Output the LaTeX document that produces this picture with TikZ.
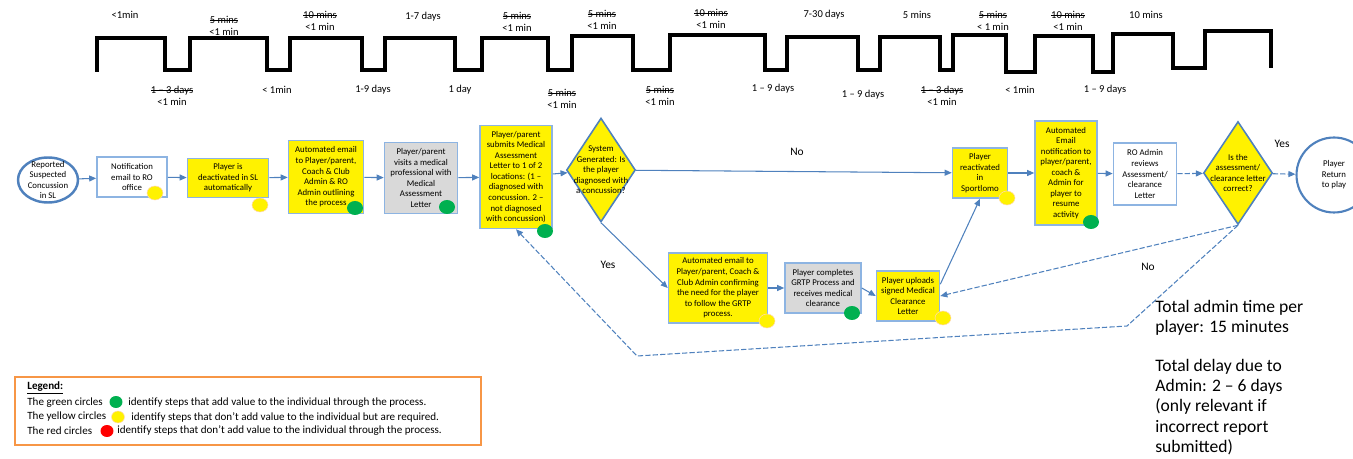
\documentclass[tikz,border=0pt]{standalone}
\usepackage{fontspec}
\setmainfont{Carlito}
\usetikzlibrary{shapes.geometric,arrows.meta}
\definecolor{flowblue}{RGB}{79,129,189}
\definecolor{boxline}{RGB}{141,180,226}
\definecolor{dotgreen}{RGB}{0,176,80}
\definecolor{legendorange}{RGB}{247,150,70}
\definecolor{boxgrey}{RGB}{217,217,217}
\newlength{\strikelen}
\newcommand{\strikeout}[1]{\settowidth{\strikelen}{#1}\rlap{\rule[0.28em]{\strikelen}{0.5pt}}#1}
\begin{document}
\begin{tikzpicture}[x=0.02cm,y=-0.02cm,
    >={Triangle[length=4pt,width=3.4pt]},
    flow/.style={draw=flowblue,line width=0.6pt},
    dashflow/.style={flow,dash pattern=on 3pt off 1.2pt},
    proc/.style={draw=boxline,line width=0.9pt,fill=yellow,align=center,inner sep=0pt,
      font=\fontsize{5}{6}\selectfont},
    whitebox/.style={proc,fill=white},
    greybox/.style={proc,fill=boxgrey},
    decision/.style={diamond,draw=flowblue,line width=0.9pt,fill=yellow,inner sep=0pt,
      minimum width=1.38cm,minimum height=2.08cm},
    dtext/.style={align=center,inner sep=0pt,font=\fontsize{5}{6}\selectfont},
    ydot/.style={ellipse,fill=yellow,draw=orange!30,line width=0.3pt,inner sep=0pt,
      minimum width=0.32cm,minimum height=0.28cm},
    gdot/.style={ellipse,fill=dotgreen,inner sep=0pt,minimum width=0.32cm,minimum height=0.28cm},
    rdot/.style={ellipse,fill=red,inner sep=0pt,minimum width=0.3cm,minimum height=0.26cm},
    wave/.style={align=center,inner sep=0pt,font=\fontsize{6}{6.8}\selectfont},
    yn/.style={inner sep=0pt,font=\fontsize{6.5}{8}\selectfont},
    legtxt/.style={anchor=west,inner sep=0pt,font=\fontsize{6.3}{7}\selectfont}]
\useasboundingbox (0,0) rectangle (1353,459);

\draw [line width=2pt] (97,72) -- (97,38) -- (165,38) -- (165,70) -- (190,70) -- (190,38)
  -- (267,38) -- (267,70) -- (290,70) -- (290,38) -- (362,38) -- (362,70) -- (385,70)
  -- (385,38) -- (455,38) -- (455,70) -- (482,70) -- (482,38) -- (548,38) -- (548,70)
  -- (572,70) -- (572,36) -- (633,36) -- (633,70) -- (670,70) -- (670,35) -- (765,35)
  -- (765,70) -- (787,70) -- (787,37) -- (858,37) -- (858,70) -- (880,70) -- (880,37)
  -- (940,37) -- (940,70) -- (953,70) -- (953,35) -- (1006,35) -- (1006,72) -- (1035,72)
  -- (1035,36) -- (1093,36) -- (1093,72) -- (1113,72) -- (1113,34) -- (1173,34)
  -- (1173,68) -- (1205,68) -- (1205,31) -- (1271,31) -- (1271,68);

\path (125,15) node [wave] (t1) {<1min};
\path (224,26) node [wave] (t2) {\strikeout{5 mins}\\<1 min};
\path (320,21) node [wave] (t3) {\strikeout{10 mins}\\<1 min};
\path (423,17) node [wave] (t4) {1-7 days};
\path (517,22) node [wave] (t5) {\strikeout{5 mins}\\<1 min};
\path (602,20) node [wave] (t6) {\strikeout{5 mins}\\<1 min};
\path (711,19) node [wave] (t7) {\strikeout{10 mins}\\<1 min};
\path (824,15) node [wave] (t8) {7-30 days};
\path (917,15) node [wave] (t9) {5 mins};
\path (993,21) node [wave] (t10) {\strikeout{5 mins}\\< 1 min};
\path (1068,21) node [wave] (t11) {\strikeout{10 mins}\\<1 min};
\path (1146,15) node [wave] (t12) {10 mins};

\path (172,96) node [wave] (b1) {\strikeout{1 -- 3 days}\\<1 min};
\path (277,90) node [wave] (b2) {< 1min};
\path (373,90) node [wave] (b3) {1-9 days};
\path (460,90) node [wave] (b4) {1 day};
\path (562,99) node [wave] (b5) {\strikeout{5 mins}\\<1 min};
\path (660,96) node [wave] (b6) {\strikeout{5 mins}\\<1 min};
\path (773,89) node [wave] (b7) {1 -- 9 days};
\path (863,95) node [wave] (b8) {1 -- 9 days};
\path (942,96) node [wave] (b9) {\strikeout{1 -- 3 days}\\<1 min};
\path (1020,90) node [wave] (b10) {< 1min};
\path (1105,90) node [wave] (b11) {1 -- 9 days};

\path (48,180) node [ellipse,draw=flowblue,line width=1.4pt,fill=white,inner sep=0pt,
  minimum width=1.2cm,minimum height=0.9cm] (rep) {};
\path (rep) node [dtext] (reptxt) {Reported\\Suspected\\Concussion\\in SL};
\path (132,177) node [whitebox,minimum width=1.4cm,minimum height=0.8cm] (notif)
  {Notification\\email to RO\\office};
\path (228,178) node [proc,minimum width=1.62cm,minimum height=0.78cm] (deact)
  {Player is\\deactivated in SL\\automatically};
\path (326,177) node [proc,minimum width=1.5cm,minimum height=1.46cm] (email)
  {Automated email\\to Player/parent,\\Coach \& Club\\Admin \& RO\\Admin outlining\\the process};
\path (421,178) node [greybox,minimum width=1.46cm,minimum height=1.42cm] (visit)
  {Player/parent\\visits a medical\\professional with\\Medical\\Assessment\\Letter};
\path (516,177) node [proc,minimum width=1.44cm,minimum height=2.06cm] (submit)
  {Player/parent\\submits Medical\\Assessment\\Letter to 1 of 2\\locations: (1 --\\diagnosed with\\concussion. 2 --\\not diagnosed\\with concussion)};
\path (601,170) node [decision] (diag) {};
\path (diag) node [dtext] (diagtxt) {System\\Generated: Is\\the player\\diagnosed with\\a concussion?};
\path (980,173) node [proc,minimum width=1.1cm,minimum height=1cm] (react)
  {Player\\reactivated\\in\\Sportlomo};
\path (1066,173) node [proc,minimum width=1.24cm,minimum height=2.08cm] (resume)
  {Automated\\Email\\notification to\\player/parent,\\coach \&\\Admin for\\player to\\resume\\activity};
\path (1145,174) node [whitebox,minimum width=1.26cm,minimum height=1.24cm] (review)
  {RO Admin\\reviews\\Assessment/\\clearance\\Letter};
\path (1238,173) node [decision,minimum height=2.06cm] (correct) {};
\path (correct) node [dtext] (correcttxt) {Is the\\assessment/\\clearance letter\\correct?};
\path (1334,175) node [circle,draw=flowblue,line width=1.2pt,fill=white,inner sep=0pt,
  minimum size=1.5cm,align=center,font=\fontsize{5}{6}\selectfont] (rtp) {Player\\Return\\to play};
\path (718,288) node [proc,minimum width=1.98cm,minimum height=1.4cm] (grtpmail)
  {Automated email to\\Player/parent, Coach \&\\Club Admin confirming\\the need for the player\\to follow the GRTP\\process.};
\path (823,288) node [greybox,minimum width=1.52cm,minimum height=1cm] (grtp)
  {Player completes\\GRTP Process and\\receives medical\\clearance};
\path (908,296) node [proc,minimum width=1.26cm,minimum height=1cm] (upload)
  {Player uploads\\signed Medical\\Clearance\\Letter};

\path (155,193) node [ydot] (d1) {};
\path (260,205) node [ydot] (d2) {};
\path (355,208) node [gdot] (d3) {};
\path (447,207) node [gdot] (d4) {};
\path (545,231) node [gdot] (d5) {};
\path (1007,198) node [ydot] (d6) {};
\path (1091,222) node [gdot] (d7) {};
\path (767,321) node [ydot] (d8) {};
\path (852,313) node [gdot] (d9) {};
\path (943,318) node [ydot] (d10) {};

\coordinate (bendr) at (1127,326);
\coordinate (bendl) at (637,356);

\draw [flow,->] (rep) -- (notif);
\draw [flow,->] (notif) -- (deact);
\draw [flow,->] (deact) -- (email);
\draw [flow,->] (email) -- (visit);
\draw [flow,->] (visit) -- (submit);
\draw [flow,->] (submit) -- (diag);
\draw [flow,->] (diag) -- (react);
\draw [flow,->] (diag.south) -- (grtpmail.west);
\draw [flow,->] (grtpmail) -- (grtp);
\draw [flow,->] (grtp.east) -- (upload.west);
\draw [flow,->] (upload.20) -- (react.south);
\draw [flow,->] (react) -- (resume);
\draw [flow,->] (resume) -- (review);
\draw [dashflow,->] (review) -- (correct);
\draw [dashflow,->] (correct) -- (rtp);
\draw [dashflow,->] (correct.south) -- (upload.east);
\draw [dashflow,->] (correct.south) -- (bendr) -- (bendl) -- (submit.south);

\path (797,152) node [yn] (no1) {No};
\path (608,265) node [yn] (yes1) {Yes};
\path (1282,144) node [yn] (yes2) {Yes};
\path (1148,267) node [yn] (no2) {No};

\path (14,376) node [anchor=north west,draw=legendorange,line width=1pt,inner sep=0pt,
  minimum width=9.32cm,minimum height=1.36cm] (legend) {};
\path (27,388) node [legtxt] (leg0) {\textbf{\underline{Legend:}}};
\path (27,403) node [legtxt] (leg1a) {The green circles};
\path (116,402) node [gdot,minimum width=0.26cm,minimum height=0.24cm] (lg) {};
\path (128,403) node [legtxt] (leg1b) {identify steps that add value to the individual through the process.};
\path (27,417) node [legtxt] (leg2a) {The yellow circles};
\path (118,417) node [ydot,minimum width=0.26cm,minimum height=0.24cm] (ly) {};
\path (131,417) node [legtxt] (leg2b) {identify steps that don't add value to the individual but are required.};
\path (27,431) node [legtxt] (leg3a) {The red circles};
\path (107,431) node [rdot,minimum width=0.26cm,minimum height=0.24cm] (lr) {};
\path (117,431) node [legtxt] (leg3b) {identify steps that don't add value to the individual through the process.};

\path (1155,300) node [anchor=north west,align=left,inner sep=0pt,
  font=\fontsize{10}{11.4}\selectfont] (totals)
  {Total admin time per\\player: 15 minutes\\[11pt]Total delay due to\\Admin: 2 -- 6 days\\(only relevant if\\incorrect report\\submitted)};
\end{tikzpicture}
\end{document}
